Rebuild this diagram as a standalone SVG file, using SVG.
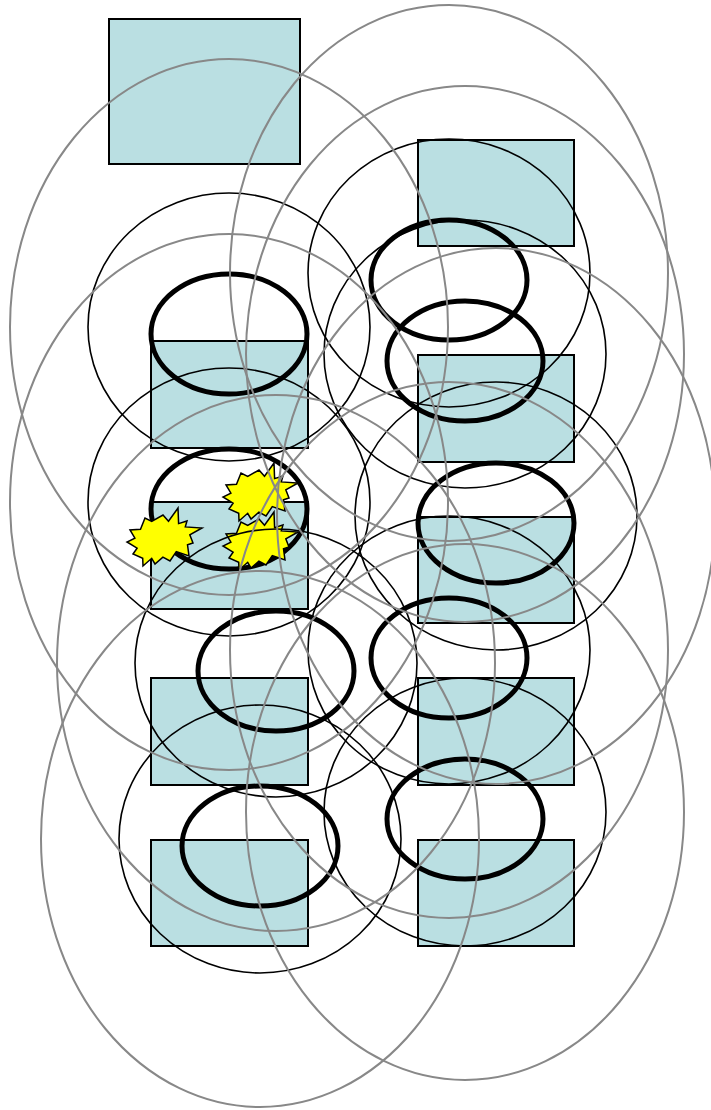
<svg xmlns="http://www.w3.org/2000/svg" width="711" height="1110" viewBox="0 0 711 1110">
<style>
.box{fill:#badfe2;stroke:#000;stroke-width:2}
.thick{fill:none;stroke:#000;stroke-width:5}
.thin{fill:none;stroke:#000;stroke-width:1.6}
.gray{fill:none;stroke:#888;stroke-width:2}
.star{fill:#ffff00;stroke:#000;stroke-width:1.5;stroke-linejoin:miter}
</style>
<defs>
<path id="boom" d="M163,515 L168.5,521.3 L178,508 L178.6,523.6 L187,521 L185.3,526.9 L202,528 L189.8,534.8 L193,543 L187.5,544.8 L189,556 L176.3,551.6 L170,561 L162.9,557.2 L155,564 L151.7,558.3 L143,566 L142.7,558.3 L133,554 L137.1,548.2 L127,542 L134.9,538.1 L130,530 L140.5,529.2 L145,518 L151.7,521.3 Z"/>
</defs>
<rect width="711" height="1110" fill="#fff"/>
<g id="boxes">
<rect id="box1" class="box" x="109" y="19" width="191" height="145"/>
<rect id="box2" class="box" x="418" y="140" width="156" height="106"/>
<rect id="box3" class="box" x="151" y="341" width="157" height="107"/>
<rect id="box4" class="box" x="418" y="355" width="156" height="107"/>
<rect id="box5" class="box" x="151" y="502" width="157" height="107"/>
<rect id="box6" class="box" x="418" y="517" width="156" height="106"/>
<rect id="box7" class="box" x="151" y="678" width="157" height="107"/>
<rect id="box8" class="box" x="418" y="678" width="156" height="107"/>
<rect id="box9" class="box" x="151" y="840" width="157" height="106"/>
<rect id="box10" class="box" x="418" y="840" width="156" height="106"/>
</g>
<g id="thick-rings">
<ellipse class="thick" cx="229" cy="334" rx="78" ry="60"/>
<ellipse class="thick" cx="449" cy="280" rx="78" ry="60"/>
<ellipse class="thick" cx="465" cy="361" rx="78" ry="60"/>
<ellipse class="thick" cx="229" cy="509" rx="78" ry="60"/>
<ellipse class="thick" cx="496" cy="523" rx="78" ry="60"/>
<ellipse class="thick" cx="276" cy="671" rx="78" ry="60"/>
<ellipse class="thick" cx="449" cy="658" rx="78" ry="60"/>
<ellipse class="thick" cx="260" cy="846" rx="78" ry="60"/>
<ellipse class="thick" cx="465" cy="819" rx="78" ry="60"/>
</g>
<g id="stars">
<use href="#boom" class="star"/>
<use href="#boom" class="star" transform="translate(96,-45)"/>
<use href="#boom" class="star" transform="translate(96,4)"/>
</g>
<g id="thin-rings">
<ellipse class="thin" cx="229" cy="327" rx="141" ry="134"/>
<ellipse class="thin" cx="449" cy="273" rx="141" ry="134"/>
<ellipse class="thin" cx="465" cy="354" rx="141" ry="134"/>
<ellipse class="thin" cx="229" cy="502" rx="141" ry="134"/>
<ellipse class="thin" cx="496" cy="516" rx="141" ry="134"/>
<ellipse class="thin" cx="276" cy="663" rx="141" ry="134"/>
<ellipse class="thin" cx="449" cy="650" rx="141" ry="134"/>
<ellipse class="thin" cx="260" cy="839" rx="141" ry="134"/>
<ellipse class="thin" cx="465" cy="812" rx="141" ry="134"/>
</g>
<g id="gray-rings">
<ellipse class="gray" cx="229" cy="327" rx="219" ry="268"/>
<ellipse class="gray" cx="449" cy="273" rx="219" ry="268"/>
<ellipse class="gray" cx="465" cy="354" rx="219" ry="268"/>
<ellipse class="gray" cx="229" cy="502" rx="219" ry="268"/>
<ellipse class="gray" cx="496" cy="516" rx="219" ry="268"/>
<ellipse class="gray" cx="276" cy="663" rx="219" ry="268"/>
<ellipse class="gray" cx="449" cy="650" rx="219" ry="268"/>
<ellipse class="gray" cx="260" cy="839" rx="219" ry="268"/>
<ellipse class="gray" cx="465" cy="812" rx="219" ry="268"/>
</g>
</svg>
